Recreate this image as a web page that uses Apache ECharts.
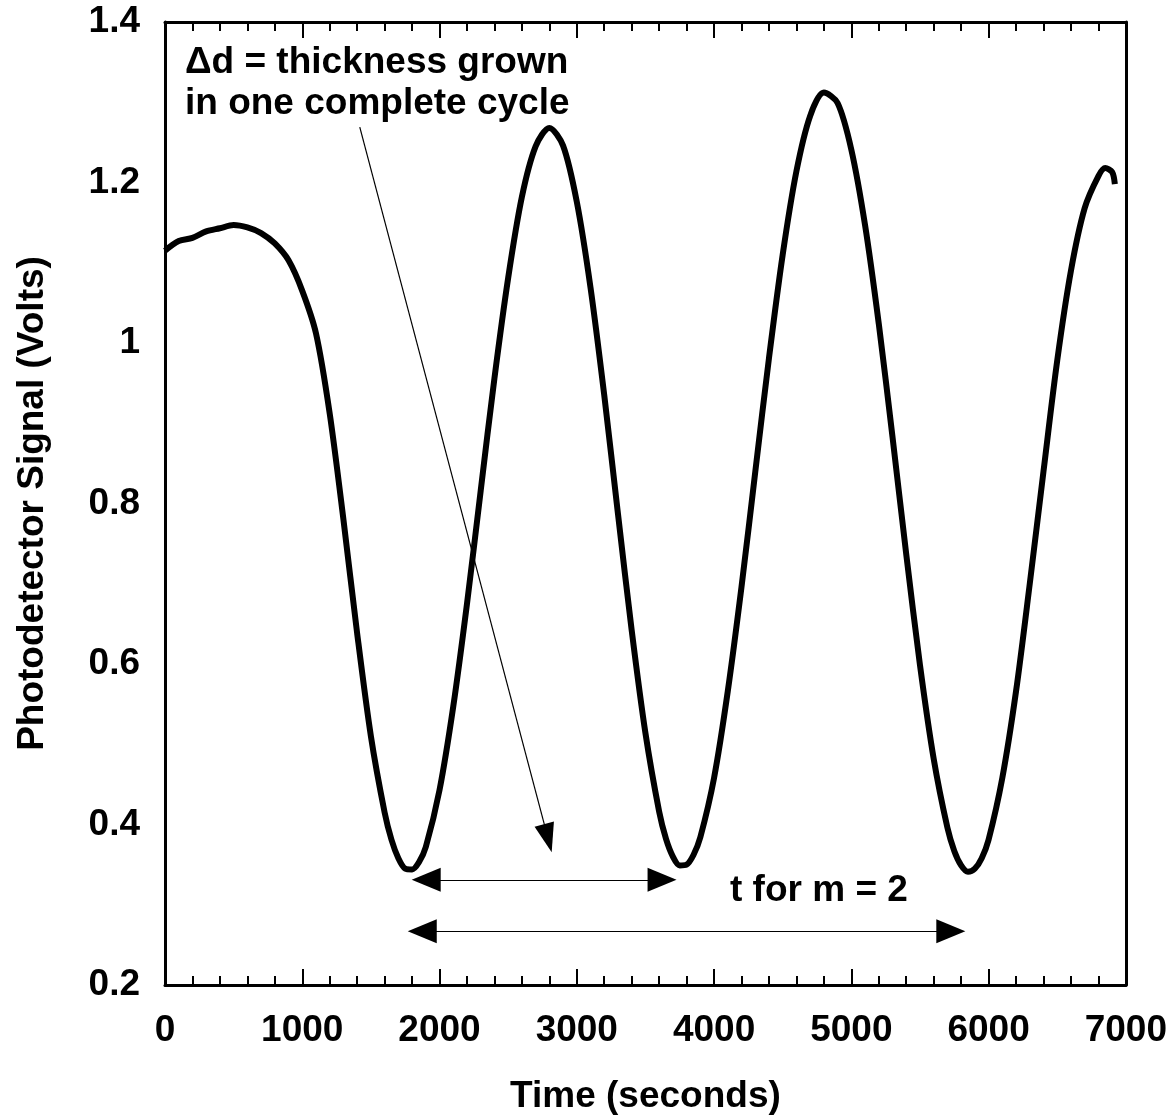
<!DOCTYPE html>
<html>
<head>
<meta charset="utf-8">
<script src="https://cdn.jsdelivr.net/npm/echarts@6/dist/echarts.min.js"></script>
<style>
  html, body { margin: 0; padding: 0; background: #fff; }
  #chart { width: 1170px; height: 1120px; }
</style>
</head>
<body>
<div id="chart"></div>
<script>
// time (s) and photodetector signal (V)
var times = [0, 100, 200, 300, 400, 500, 600, 700, 800, 900,
  1000, 1100, 1200, 1300, 1400, 1500, 1600, 1650, 1700, 1750, 1800, 1850, 1900,
  2000, 2100, 2200, 2300, 2400, 2500, 2600, 2700, 2800, 2900,
  3000, 3100, 3200, 3300, 3400, 3500, 3600, 3650, 3700, 3750, 3800, 3850, 3900,
  4000, 4100, 4200, 4300, 4400, 4500, 4600, 4700, 4800, 4900,
  5000, 5100, 5200, 5300, 5400, 5500, 5600, 5700, 5750, 5800, 5850, 5900, 5950,
  6000, 6100, 6200, 6300, 6400, 6500, 6600, 6700, 6800, 6850, 6900, 6920]
var signal = [1.115, 1.127, 1.131, 1.139, 1.143, 1.147, 1.144, 1.137, 1.124, 1.103,
  1.065, 1.012, 0.912, 0.780, 0.638, 0.510, 0.415, 0.381, 0.358, 0.345, 0.344, 0.353, 0.372,
  0.443, 0.547, 0.675, 0.816, 0.956, 1.081, 1.182, 1.245, 1.268, 1.246,
  1.176, 1.069, 0.935, 0.787, 0.642, 0.514, 0.416, 0.382, 0.360, 0.349, 0.350, 0.362, 0.384,
  0.458, 0.566, 0.696, 0.839, 0.981, 1.110, 1.214, 1.283, 1.312, 1.299,
  1.241, 1.147, 1.024, 0.883, 0.737, 0.599, 0.482, 0.396, 0.367, 0.349, 0.341, 0.345, 0.358,
  0.381, 0.458, 0.566, 0.700, 0.840, 0.978, 1.090, 1.168, 1.208, 1.218, 1.213, 1.198]

// annotation arrows in data units [time, volts]
var cycleArrow = [[1903, 0.331], [3621, 0.331]]
var totalArrow = [[1874, 0.267], [5725, 0.267]]
var pointerArrow = [[1419, 1.269], [2790, 0.383]]

var FONT = "'Liberation Sans', Arial, sans-serif"
var chart = echarts.init(document.getElementById('chart'))

var xBase = {
  type: 'value',
  min: 0,
  max: 7000,
  interval: 1000,
  splitLine: { show: false },
  axisLine: { show: true, onZero: false, lineStyle: { color: '#000', width: 3 } },
  axisTick: { show: true, inside: true, length: 16, lineStyle: { color: '#000', width: 2 } },
  minorTick: { show: true, splitNumber: 5, length: 9, lineStyle: { color: '#000', width: 2 } }
}

var option = {
  backgroundColor: '#fff',
  animation: false,
  grid: { left: 165, right: 43, top: 22, bottom: 135 },
  xAxis: [
    Object.assign({}, xBase, {
      position: 'bottom',
      name: 'Time (seconds)',
      nameLocation: 'middle',
      nameGap: 93,
      nameTextStyle: { color: '#000', fontSize: 37, fontWeight: 'bold', fontFamily: FONT },
      axisLabel: {
        color: '#000', fontSize: 37, fontWeight: 'bold', fontFamily: FONT, margin: 27,
        formatter: function (v) { return String(v) }
      }
    }),
    Object.assign({}, xBase, {
      position: 'top',
      axisLabel: { show: false }
    })
  ],
  yAxis: [
    {
      type: 'value',
      min: 0.2,
      max: 1.4,
      interval: 0.2,
      position: 'left',
      name: 'Photodetector Signal (Volts)',
      nameLocation: 'middle',
      nameRotate: 90,
      nameGap: 114,
      nameTextStyle: { color: '#000', fontSize: 37, fontWeight: 'bold', fontFamily: FONT },
      splitLine: { show: false },
      axisLine: { show: true, onZero: false, lineStyle: { color: '#000', width: 3 } },
      axisTick: { show: false },
      axisLabel: {
        color: '#000', fontSize: 37, fontWeight: 'bold', fontFamily: FONT, margin: 25,
        formatter: function (v) { return String(+v.toFixed(1)) }
      }
    },
    {
      type: 'value',
      min: 0.2,
      max: 1.4,
      interval: 0.2,
      position: 'right',
      splitLine: { show: false },
      axisLine: { show: true, onZero: false, lineStyle: { color: '#000', width: 3 } },
      axisTick: { show: false },
      axisLabel: { show: false }
    }
  ],
  graphic: [
    {
      type: 'text',
      left: 185,
      top: 42,
      style: {
        text: '\u0394d = thickness grown\nin one complete cycle',
        fill: '#000',
        font: 'bold 37px ' + FONT,
        lineHeight: 41
      }
    },
    {
      type: 'text',
      left: 730,
      top: 872,
      style: {
        text: 't for m = 2',
        fill: '#000',
        font: 'bold 37px ' + FONT
      }
    }
  ],
  series: [{
    type: 'line',
    xAxisIndex: 0,
    yAxisIndex: 0,
    data: times.map(function (t, i) { return [t, signal[i]] }),
    smooth: 0.3,
    showSymbol: false,
    lineStyle: { color: '#000', width: 6 },
    markLine: {
      silent: true,
      animation: false,
      label: { show: false },
      emphasis: { disabled: true },
      lineStyle: { color: '#000', width: 1.2, type: 'solid' },
      data: [
        [
          { coord: cycleArrow[0], symbol: 'triangle', symbolSize: [24, 29] },
          { coord: cycleArrow[1], symbol: 'triangle', symbolSize: [24, 29] }
        ],
        [
          { coord: totalArrow[0], symbol: 'triangle', symbolSize: [24, 29] },
          { coord: totalArrow[1], symbol: 'triangle', symbolSize: [24, 29] }
        ],
        [
          { coord: pointerArrow[0], symbol: 'none' },
          { coord: pointerArrow[1], symbol: 'triangle', symbolSize: [20, 29] }
        ]
      ]
    }
  }]
}

chart.setOption(option)
</script>
</body>
</html>
